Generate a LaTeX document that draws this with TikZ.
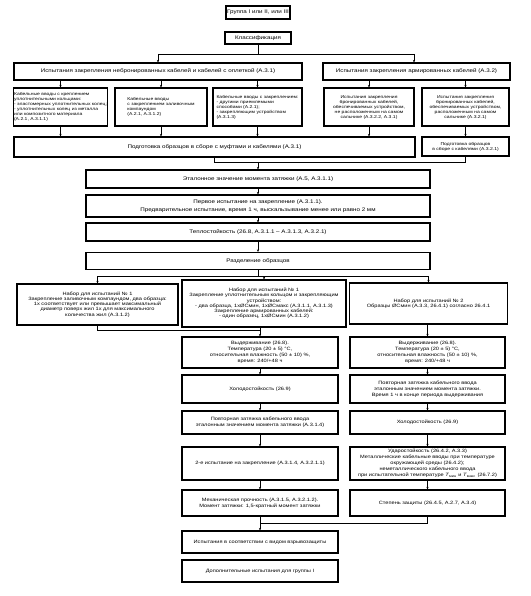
\documentclass[tikz,border=0pt]{standalone}
\usepackage{fontspec}
\setmainfont[FakeStretch=1.2]{Liberation Sans}
\usetikzlibrary{arrows.meta}
\begin{document}
\begin{tikzpicture}[x=1pt,y=-1pt,
  box/.style={draw, line width=1.1pt, align=center, inner sep=1pt, font=\fontsize{5.2}{8}\selectfont},
  rowtxt/.style={font=\fontsize{4.2}{5}\selectfont},
  settxt/.style={font=\fontsize{4.7}{5.2}\selectfont},
  coltxt/.style={font=\fontsize{4.7}{5.9}\selectfont},
  arr/.style={-{Stealth[length=2.6pt,width=2.2pt]}, line width=0.6pt},
  ln/.style={line width=0.6pt}]
\useasboundingbox (0,0) rectangle (530,596);
% top
\node[box,minimum width=64pt,minimum height=13pt] (grp) at (258,12.5) {Группа I или II, или III};
\node[box,minimum width=66pt,minimum height=12pt] (cls) at (258,38) {Классификация};
\node[box,minimum width=288pt,minimum height=17pt] (nonarm) at (158,71.5) {Испытания закрепления небронированных кабелей и кабелей с оплеткой (А.3.1)};
\node[box,minimum width=187pt,minimum height=17pt] (arm) at (416.5,71.5) {Испытания закрепления армированных кабелей (А.3.2)};
% row of five
\node[box,rowtxt,align=left,minimum width=93pt,minimum height=38pt] (b1) at (60.5,107) {Кабельные вводы с креплением\\уплотнительными кольцами:\\- эластомерных уплотнительных колец;\\- уплотнительных колец из металла\\или композитного материала\\(А.2.1, А.3.1.1)};
\node[box,rowtxt,align=left,minimum width=92pt,minimum height=38pt] (b2) at (161,107) {Кабельные вводы\\с закреплением заливочным\\компаундом\\(А.2.1, А.3.1.2)};
\node[box,rowtxt,align=left,minimum width=89pt,minimum height=38pt] (b3) at (257.5,107) {Кабельные вводы с закреплением:\\- другими приемлемыми\\способами (А.2.1);\\- закрепляющим устройством\\(А.3.1.3)};
\node[box,rowtxt,minimum width=90pt,minimum height=38pt] (b4) at (369,107) {Испытания закрепления\\бронированных кабелей,\\обеспечиваемых устройством,\\не расположенным на самом\\сальнике (А.3.2.2, А.3.1)};
\node[box,rowtxt,minimum width=87pt,minimum height=38pt] (b5) at (465.5,107) {Испытания закрепления\\бронированных кабелей,\\обеспечиваемых устройством,\\расположенным на самом\\сальнике (А.3.2.1)};
% preparation
\node[box,minimum width=401pt,minimum height=20pt] (prep) at (214.5,147) {Подготовка образцов в сборе с муфтами и кабелями (А.3.1)};
\node[box,rowtxt,minimum width=87pt,minimum height=19pt] (prepb) at (465.5,146.5) {Подготовка образцов\\в сборе с кабелями (А.3.2.1)};
% central chain
\node[box,minimum width=344pt,minimum height=18pt] (ref) at (258,179) {Эталонное значение момента затяжки (А.5, А.3.1.1)};
\node[box,minimum width=344pt,minimum height=22pt] (first) at (258,206) {Первое испытание на закрепление (А.3.1.1).\\Предварительное испытание, время 1 ч, выскальзывание менее или равно 2 мм};
\node[box,minimum width=344pt,minimum height=18pt] (heat) at (258,232) {Теплостойкость (26.8, А.3.1.1 – А.3.1.3, А.3.2.1)};
\node[box,minimum width=344pt,minimum height=17pt] (sep) at (258,261) {Разделение образцов};
% sets
\node[box,settxt,minimum width=161pt,minimum height=41pt] (s1) at (97.5,304.5) {Набор для испытаний № 1\\Закрепление заливочным компаундом, два образца:\\1х соответствует или превышает максимальный\\диаметр поверх жил 1х для максимального\\количества жил (А.3.1.2)};
\node[box,settxt,minimum width=164pt,minimum height=47pt] (s2) at (264,303.5) {Набор для испытаний № 1\\Закрепление уплотнительным кольцом и закрепляющим\\устройством:\\- два образца, 1хØСмин, 1хØСмакс (А.3.1.1, А.3.1.3)\\Закрепление армированных кабелей:\\- один образец, 1хØСмин (А.3.1.2)};
\node[box,settxt,minimum width=158pt,minimum height=41pt] (s3) at (428.5,303.5) {Набор для испытаний № 2\\Образцы ØСмин (А.3.3, 26.4.1) согласно 26.4.1};
% middle column
\node[box,coltxt,minimum width=156pt,minimum height=31pt] (m1) at (260,352.5) {Выдерживание (26.8).\\Температура (20 ± 5) °С,\\относительная влажность (50 ± 10) \%,\\время: 240/+48 ч};
\node[box,coltxt,minimum width=156pt,minimum height=28pt] (m2) at (260,389) {Холодостойкость (26.9)};
\node[box,coltxt,minimum width=156pt,minimum height=23pt] (m3) at (260,422.5) {Повторная затяжка кабельного ввода\\эталонным значением момента затяжки (А.3.1.4)};
\node[box,coltxt,minimum width=156pt,minimum height=33pt] (m4) at (260,463.5) {2-е испытание на закрепление (А.3.1.4, А.3.2.1.1)};
\node[box,coltxt,minimum width=156pt,minimum height=26pt] (m5) at (260,503) {Механическая прочность (А.3.1.5, А.3.2.1.2).\\Момент затяжки: 1,5-кратный момент затяжки};
% right column
\node[box,coltxt,minimum width=155pt,minimum height=31pt] (r1) at (427.5,352.5) {Выдерживание (26.8).\\Температура (20 ± 5) °С,\\относительная влажность (50 ± 10) \%,\\время: 240/+48 ч};
\node[box,coltxt,minimum width=155pt,minimum height=28pt] (r2) at (427.5,389) {Повторная затяжка кабельного ввода\\эталонным значением момента затяжки.\\Время 1 ч в конце периода выдерживания};
\node[box,coltxt,minimum width=155pt,minimum height=23pt] (r3) at (427.5,422.5) {Холодостойкость (26.9)};
\node[box,coltxt,minimum width=155pt,minimum height=33pt] (r4) at (427.5,463.5) {Ударостойкость (26.4.2, А.3.3)\\Металлические кабельные вводы при температуре\\окружающей среды (26.4.2);\\неметаллического кабельного ввода\\при испытательной температуре \textit{T}\textsubscript{мин} и \textit{T}\textsubscript{макс} (26.7.2)};
\node[box,coltxt,minimum width=155pt,minimum height=26pt] (r5) at (427.5,503) {Степень защиты (26.4.5, А.2.7, А.3.4)};
% bottom
\node[box,coltxt,minimum width=156pt,minimum height=22pt] (expl) at (260,542) {Испытания в соответствии с видом взрывозащиты};
\node[box,coltxt,minimum width=156pt,minimum height=22pt] (add) at (260,571) {Дополнительные испытания для группы I};
% connectors: classification split
\coordinate (c1) at (258,54);
\coordinate (c1r) at (414,54);
\draw[ln] (cls.south) -- (c1);
\draw[ln] (nonarm.north |- c1) -- (c1r);
\draw[arr] (nonarm.north |- c1) -- (nonarm.north);
\draw[arr] (c1r) -- (c1r |- arm.north);
% to row boxes
\draw[arr] (b1.north |- nonarm.south) -- (b1.north);
\draw[arr] (b2.north |- nonarm.south) -- (b2.north);
\draw[arr] (b3.north |- nonarm.south) -- (b3.north);
\draw[arr] (b4.north |- arm.south) -- (b4.north);
\draw[arr] (b5.north |- arm.south) -- (b5.north);
% to preparation
\draw[arr] (b1.south) -- (b1.south |- prep.north);
\draw[arr] (b2.south) -- (b2.south |- prep.north);
\draw[arr] (b3.south) -- (b3.south |- prep.north);
\draw[arr] (b4.south) -- (b4.south |- prep.north);
\draw[arr] (b5.south) -- (prepb.north);
% merge to reference torque
\coordinate (c2) at (258,162);
\draw[ln] (prep.south) -- (prep.south |- c2) -- (prepb.south |- c2) -- (prepb.south);
\draw[arr] (c2) -- (ref.north);
\draw[arr] (ref.south) -- (first.north);
\draw[arr] (first.south) -- (heat.north);
\draw[arr] (heat.south) -- (sep.north);
% split to sets
\coordinate (c3) at (258,276);
\draw[ln] (sep.south) -- (c3);
\draw[ln] (s1.north |- c3) -- (s3.north |- c3);
\draw[arr] (s1.north |- c3) -- (s1.north);
\draw[arr] (s2.north |- c3) -- (s2.north);
\draw[arr] (s3.north |- c3) -- (s3.north);
% sets to columns
\coordinate (c4) at (260,330);
\draw[ln] (s1.south) -- (s1.south |- c4) -- (c4);
\draw[arr] (m1.north |- s2.south) -- (m1.north);
\draw[arr] (r1.north |- s3.south) -- (r1.north);
% middle column
\draw[arr] (m1.south) -- (m2.north);
\draw[arr] (m2.south) -- (m3.north);
\draw[arr] (m3.south) -- (m4.north);
\draw[arr] (m4.south) -- (m5.north);
% right column
\draw[arr] (r1.south) -- (r2.north);
\draw[arr] (r2.south) -- (r3.north);
\draw[arr] (r3.south) -- (r4.north);
\draw[arr] (r4.south) -- (r5.north);
% merge to bottom
\coordinate (c5) at (260,523);
\draw[ln] (m5.south) -- (c5) -- (r5.south |- c5) -- (r5.south);
\draw[arr] (c5) -- (expl.north);
\end{tikzpicture}
\end{document}
